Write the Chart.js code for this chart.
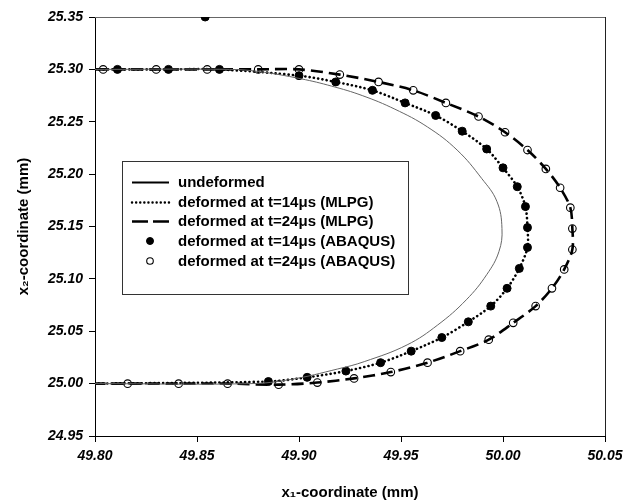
<!DOCTYPE html>
<html>
<head>
<meta charset="utf-8">
<script src="https://cdn.jsdelivr.net/npm/chart.js@4/dist/chart.umd.min.js"></script>
<style>
  html, body { margin: 0; padding: 0; background: #fff; }
  #wrap { width: 635px; height: 504px; }
</style>
</head>
<body>
<div id="wrap"><canvas id="myChart" width="635" height="504"></canvas></div>
<script>
// axis ticks
var xTicks = [49.80, 49.85, 49.90, 49.95, 50.00, 50.05];
var yTicks = [24.95, 25.00, 25.05, 25.10, 25.15, 25.20, 25.25, 25.30, 25.35];

// undeformed contour
var undefX = [49.800, 49.866, 49.880, 49.901, 49.916, 49.931, 49.947, 49.963, 49.9775, 49.9895, 49.997, 49.9995,
              49.998, 49.992, 49.982, 49.968, 49.953, 49.932, 49.919, 49.896, 49.876, 49.800];
var undefY = [25.300, 25.300, 25.298, 25.291, 25.284, 25.275, 25.262, 25.245, 25.223, 25.196, 25.174, 25.148,
              25.126, 25.104, 25.080, 25.056, 25.037, 25.021, 25.014, 25.004, 25.000, 25.000];

// t=14us (ABAQUS nodes, MLPG curve runs through them)
var x14 = [49.811, 49.836, 49.861, 49.900, 49.918, 49.936, 49.952, 49.967, 49.980, 49.992, 50.000, 50.007, 50.011,
           50.012, 50.012, 50.008, 50.002, 49.994, 49.983, 49.970, 49.955, 49.940, 49.923, 49.904, 49.885];
var y14 = [25.300, 25.300, 25.300, 25.294, 25.288, 25.280, 25.268, 25.256, 25.241, 25.224, 25.206, 25.188, 25.169,
           25.149, 25.130, 25.110, 25.091, 25.074, 25.059, 25.044, 25.031, 25.020, 25.012, 25.006, 25.002];

// t=24us
var x24 = [49.804, 49.830, 49.855, 49.880, 49.900, 49.920, 49.939, 49.956, 49.972, 49.988, 50.001, 50.012, 50.021,
           50.028, 50.033, 50.034, 50.034, 50.030, 50.024, 50.016, 50.005, 49.993, 49.979, 49.963, 49.945, 49.927,
           49.909, 49.890, 49.865, 49.841, 49.816];
var y24 = [25.300, 25.300, 25.300, 25.300, 25.300, 25.295, 25.288, 25.280, 25.268, 25.255, 25.240, 25.223, 25.205,
           25.187, 25.168, 25.148, 25.128, 25.109, 25.091, 25.074, 25.058, 25.042, 25.031, 25.020, 25.011, 25.005,
           25.001, 24.999, 25.000, 25.000, 25.000];

// curve ends on the left edge
var edgeX = [49.80, 49.80];
var edgeY = [25.30, 25.00];

// lone dot sitting on the top border
var strayX = [49.854];
var strayY = [25.35];

function pts(xs, ys) {
    return xs.map(function(x, i) { return {x: x, y: ys[i]}; });
}

function curve(xs, ys) {
    return [{x: edgeX[0], y: edgeY[0]}].concat(pts(xs, ys), [{x: edgeX[1], y: edgeY[1]}]);
}

var FONT = "'Liberation Sans', Arial, Helvetica, sans-serif";

// legend samples (line width / dash as drawn in the key)
var keyLine = [
    {w: 2, dash: [], cap: 'butt'},
    {w: 2.4, dash: [0.1, 4], cap: 'round'},
    {w: 2.4, dash: [16, 5], cap: 'butt'}
];

// legend box inside the plot
var boxLegend = {
    id: 'boxLegend',
    afterDraw: function(chart) {
        var ctx = chart.ctx;
        var ds = chart.data.datasets;
        ctx.save();
        ctx.fillStyle = '#fff';
        ctx.fillRect(122, 161, 286, 133);
        ctx.strokeStyle = '#333';
        ctx.lineWidth = 1;
        ctx.strokeRect(122.5, 161.5, 286, 133);
        ctx.font = 'bold 15px ' + FONT;
        ctx.textBaseline = 'middle';
        for (var i = 0; i < ds.length; i++) {
            var d = ds[i];
            var y = Math.round(182 + i * 19.7);
            if (d.showLine) {
                var k = keyLine[i];
                ctx.beginPath();
                ctx.strokeStyle = '#000';
                ctx.lineWidth = k.w;
                ctx.lineCap = k.cap;
                ctx.setLineDash(k.dash);
                ctx.moveTo(132, y + 0.5);
                ctx.lineTo(169, y + 0.5);
                ctx.stroke();
                ctx.setLineDash([]);
            } else {
                ctx.beginPath();
                ctx.arc(150, y, d.pointRadius - 0.5, 0, Math.PI * 2);
                ctx.fillStyle = d.pointBackgroundColor;
                ctx.fill();
                ctx.lineWidth = d.pointBorderWidth;
                ctx.strokeStyle = '#000';
                ctx.stroke();
            }
            ctx.fillStyle = '#000';
            ctx.fillText(d.label, 178, y + 1);
        }
        ctx.restore();
    }
};

// top/right frame
var frame = {
    id: 'frame',
    beforeDatasetsDraw: function(chart) {
        var a = chart.chartArea, ctx = chart.ctx;
        ctx.save();
        ctx.lineWidth = 1;
        ctx.strokeStyle = '#666';
        ctx.beginPath();
        ctx.moveTo(a.left, a.top + 0.5);
        ctx.lineTo(a.right + 0.5, a.top + 0.5);
        ctx.stroke();
        ctx.strokeStyle = '#222';
        ctx.beginPath();
        ctx.moveTo(a.right + 0.5, a.top);
        ctx.lineTo(a.right + 0.5, a.bottom);
        ctx.stroke();
        ctx.restore();
    }
};

var ctx = document.getElementById('myChart').getContext('2d');
var chart = new Chart(ctx, {
    type: 'scatter',
    data: {
        datasets: [{
            label: 'undeformed',
            data: pts(undefX, undefY),
            showLine: true,
            borderColor: '#666',
            borderWidth: 1,
            pointRadius: 0,
            tension: 0.4
        },
        {
            label: 'deformed at t=14μs (MLPG)',
            data: curve(x14, y14),
            showLine: true,
            borderColor: '#000',
            borderWidth: 2.6,
            borderDash: [0.1, 4.2],
            borderCapStyle: 'round',
            pointRadius: 0,
            tension: 0.3
        },
        {
            label: 'deformed at t=24μs (MLPG)',
            data: curve(x24, y24),
            showLine: true,
            borderColor: '#000',
            borderWidth: 2.6,
            borderDash: [12, 6],
            pointRadius: 0,
            tension: 0.3
        },
        {
            label: 'deformed at t=14μs (ABAQUS)',
            data: pts(x14, y14).concat(pts(strayX, strayY)),
            showLine: false,
            pointRadius: 4,
            pointBackgroundColor: '#000',
            pointBorderColor: '#000',
            pointBorderWidth: 1
        },
        {
            label: 'deformed at t=24μs (ABAQUS)',
            data: pts(x24, y24),
            showLine: false,
            pointRadius: 3.8,
            pointBackgroundColor: '#fff',
            pointBorderColor: '#000',
            pointBorderWidth: 1.1
        }]
    },
    options: {
        responsive: false,
        animation: false,
        layout: { padding: { left: 0, right: 30, top: 17, bottom: 0 } },
        plugins: { legend: { display: false }, tooltip: { enabled: false } },
        scales: {
            x: {
                type: 'linear',
                min: xTicks[0],
                max: xTicks[xTicks.length - 1],
                afterBuildTicks: function(s) { s.ticks = xTicks.map(function(v) { return {value: v}; }); },
                afterFit: function(s) { s.height = 68; },
                grid: { display: true, drawOnChartArea: false, color: '#000', tickLength: 6, tickWidth: 1 },
                border: { color: '#000', width: 1 },
                ticks: {
                    color: '#000',
                    padding: 6,
                    maxRotation: 0,
                    font: { family: FONT, size: 14, weight: 'bold', style: 'italic' },
                    callback: function(v) { return Number(v).toFixed(2); }
                },
                title: {
                    display: true,
                    text: 'x₁-coordinate (mm)',
                    color: '#000',
                    padding: { top: 0, bottom: 2 },
                    font: { family: FONT, size: 15, weight: 'bold' }
                }
            },
            y: {
                type: 'linear',
                min: yTicks[0],
                max: yTicks[yTicks.length - 1],
                afterBuildTicks: function(s) { s.ticks = yTicks.map(function(v) { return {value: v}; }); },
                afterFit: function(s) { s.width = 95; },
                grid: { display: true, drawOnChartArea: false, color: '#000', tickLength: 6, tickWidth: 1 },
                border: { color: '#000', width: 1 },
                ticks: {
                    color: '#000',
                    padding: 6,
                    font: { family: FONT, size: 14, weight: 'bold', style: 'italic' },
                    callback: function(v) { return Number(v).toFixed(2); }
                },
                title: {
                    display: true,
                    text: 'x₂-coordinate (mm)',
                    color: '#000',
                    padding: { top: 15, bottom: 0 },
                    font: { family: FONT, size: 15, weight: 'bold' }
                }
            }
        }
    },
    plugins: [frame, boxLegend]
});
</script>
</body>
</html>
